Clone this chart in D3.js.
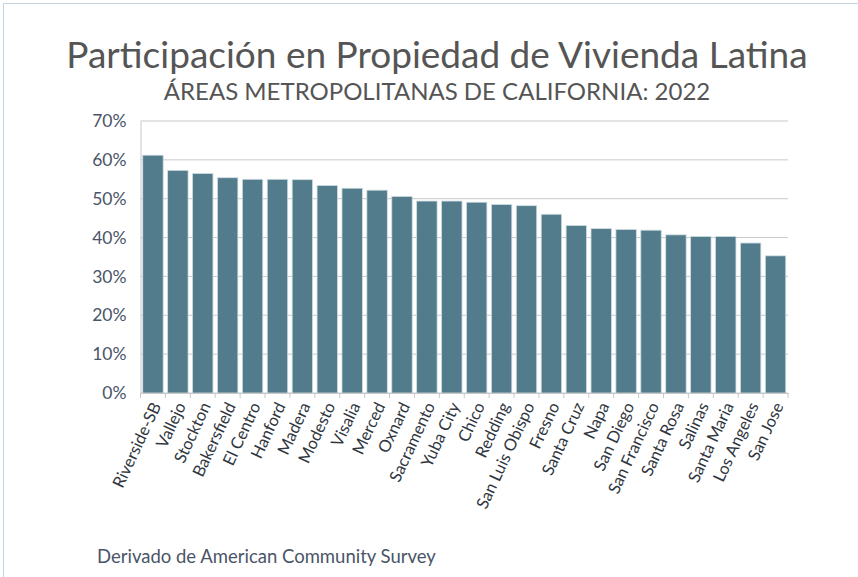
<!DOCTYPE html>
<html>
<head>
<meta charset="utf-8">
<script src="https://cdn.jsdelivr.net/npm/d3@7"></script>
<style>
  body { margin: 0; background: #fff; }
  svg { display: block; font-family: Lato, "Noto Sans", sans-serif; }
</style>
</head>
<body>
<div id="chart"></div>
<script>
// datos
const areas = ["Riverside-SB", "Vallejo", "Stockton", "Bakersfield", "El Centro", "Hanford",
  "Madera", "Modesto", "Visalia", "Merced", "Oxnard", "Sacramento", "Yuba City", "Chico",
  "Redding", "San Luis Obispo", "Fresno", "Santa Cruz", "Napa", "San Diego", "San Francisco",
  "Santa Rosa", "Salinas", "Santa Maria", "Los Angeles", "San Jose"];
const tasa = [61.2, 57.3, 56.5, 55.4, 55.0, 55.0, 54.9, 53.4, 52.7, 52.2, 50.6, 49.4, 49.4,
  49.1, 48.5, 48.2, 46.0, 43.1, 42.3, 42.1, 41.9, 40.7, 40.3, 40.3, 38.6, 35.3];
const yTicks = [0, 10, 20, 30, 40, 50, 60, 70];

const W = 858, H = 577;
const margin = { top: 121, right: 70, bottom: 184, left: 140.5 },
    width = W - margin.left - margin.right,
    height = H - margin.top - margin.bottom;

const svg = d3.select("#chart").append("svg")
    .attr("width", W)
    .attr("height", H);

// marco
svg.append("rect")
    .attr("x", 3.5).attr("y", 3.5)
    .attr("width", W + 20).attr("height", H + 20)
    .attr("fill", "none")
    .attr("stroke", "#c5d3e0");

svg.append("text")
    .attr("x", 437).attr("y", 68)
    .attr("text-anchor", "middle")
    .attr("font-size", 37)
    .attr("fill", "#555")
    .text("Participación en Propiedad de Vivienda Latina");

svg.append("text")
    .attr("x", 437).attr("y", 100)
    .attr("text-anchor", "middle")
    .attr("font-size", 24)
    .attr("fill", "#555")
    .text("ÁREAS METROPOLITANAS DE CALIFORNIA: 2022");

const g = svg.append("g")
    .attr("transform", "translate(" + margin.left + "," + margin.top + ")");

const x = d3.scaleBand()
    .domain(areas)
    .range([0, width])
    .paddingInner(0.18)
    .paddingOuter(0.09);

const y = d3.scaleLinear()
    .domain([0, 70])
    .range([height, 0]);

// líneas de cuadrícula
g.selectAll(".grid")
    .data(yTicks)
    .join("line")
    .attr("class", "grid")
    .attr("x1", 0).attr("x2", width)
    .attr("y1", d => y(d)).attr("y2", d => y(d))
    .attr("stroke", "#c8c8c8")
    .attr("stroke-width", 1);

// eje y
const yAxis = g.append("g")
    .call(d3.axisLeft(y).tickValues(yTicks).tickFormat(d => d + "%").tickSize(0).tickPadding(14));
yAxis.select(".domain").attr("stroke", "#c8c8c8");
yAxis.selectAll("text")
    .attr("font-size", 17.5)
    .attr("fill", "#4a5568")
    .attr("font-family", "Lato, 'Noto Sans', sans-serif");

// barras
g.selectAll(".bar")
    .data(tasa)
    .join("rect")
    .attr("class", "bar")
    .attr("x", (d, i) => x(areas[i]))
    .attr("y", d => y(d))
    .attr("width", x.bandwidth())
    .attr("height", d => height - y(d))
    .attr("fill", "#527b8b")
    .attr("stroke", "#cfdde2")
    .attr("stroke-width", 0.8);

// eje x con marcas entre categorías
const xAxis = g.append("g")
    .attr("transform", "translate(0," + height + ")")
    .call(d3.axisBottom(x).tickSize(0).tickPadding(8));
xAxis.select(".domain").attr("stroke", "#c8c8c8");
xAxis.selectAll("text")
    .attr("font-size", 16.5)
    .attr("fill", "#2f3640")
    .attr("font-family", "Lato, 'Noto Sans', sans-serif")
    .attr("text-anchor", "end")
    .attr("dx", "-2")
    .attr("dy", "0.55em")
    .attr("transform", "rotate(-65) translate(-6,-4)");

const bordes = d3.range(areas.length + 1).map(i => i * x.step());
xAxis.selectAll(".sep")
    .data(bordes)
    .join("line")
    .attr("class", "sep")
    .attr("x1", d => d).attr("x2", d => d)
    .attr("y1", 0).attr("y2", 5)
    .attr("stroke", "#c8c8c8");

svg.append("text")
    .attr("x", 97).attr("y", 563)
    .attr("font-size", 18.5)
    .attr("fill", "#4a5568")
    .text("Derivado de American Community Survey");
</script>
</body>
</html>
